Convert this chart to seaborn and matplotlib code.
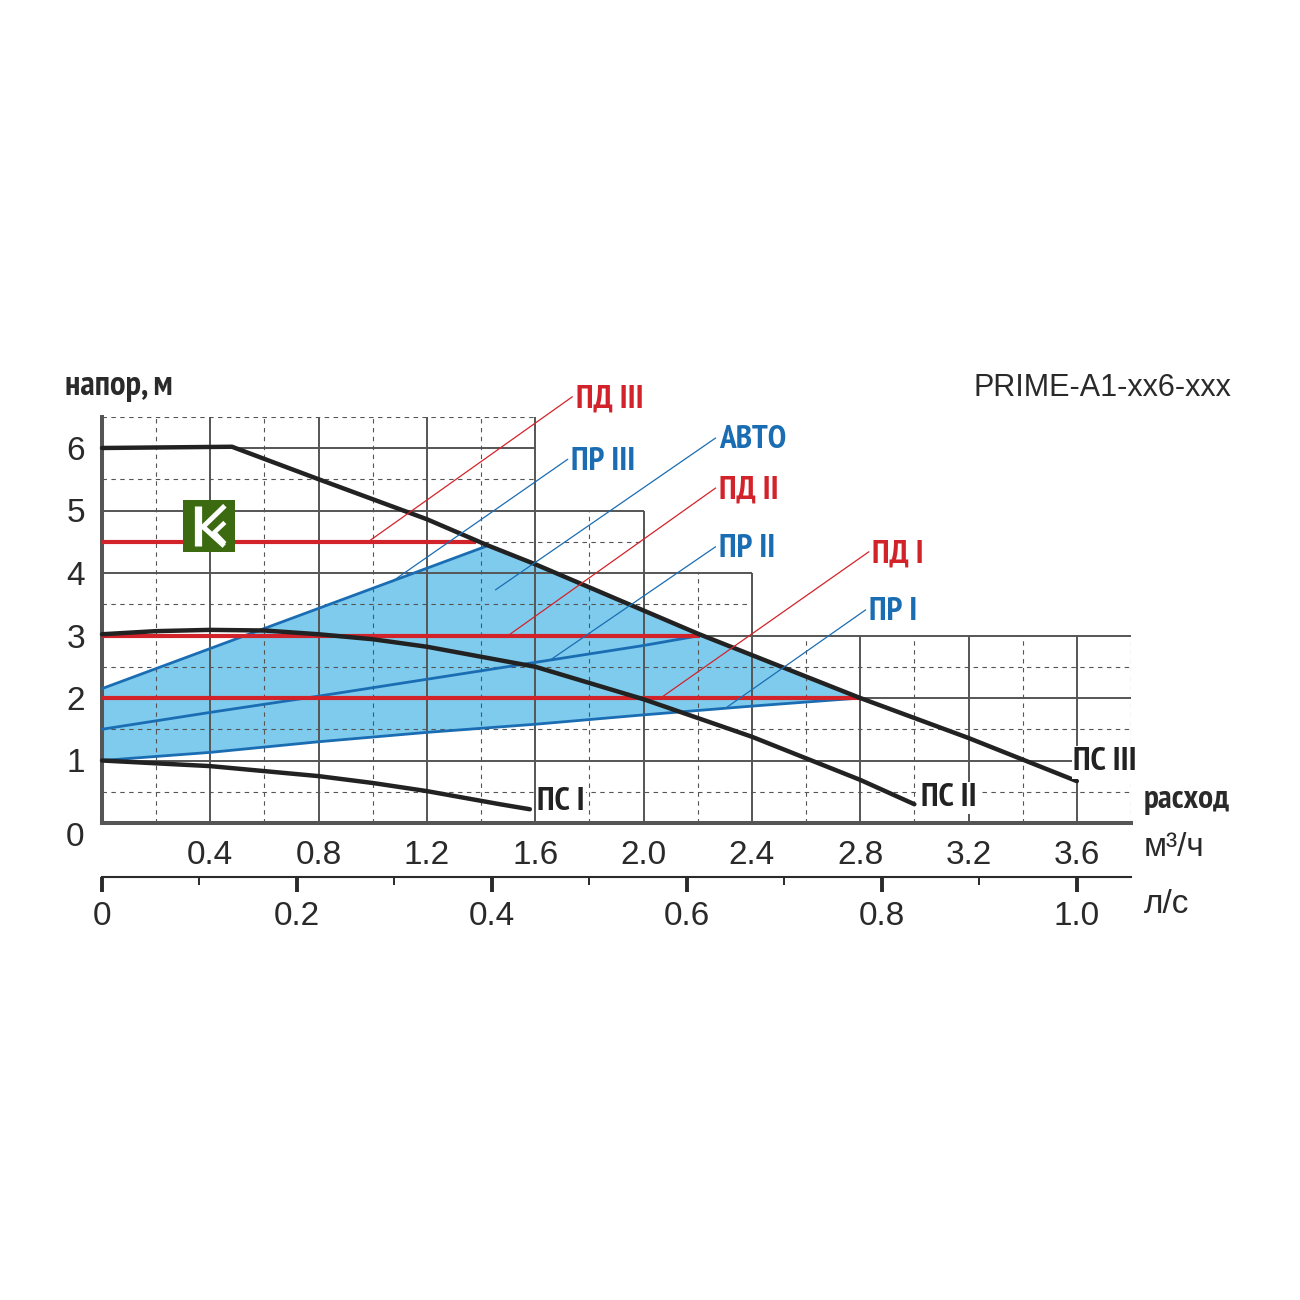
import matplotlib
matplotlib.use("Agg")
import matplotlib.pyplot as plt
import numpy as np
import seaborn as sns
from matplotlib import font_manager
from matplotlib.patches import Rectangle

# --- данные графика (расход, м3/ч -> напор, м) ---
flow_ticks = [0.4, 0.8, 1.2, 1.6, 2.0, 2.4, 2.8, 3.2, 3.6]
flow_labels = ["0.4", "0.8", "1.2", "1.6", "2.0", "2.4", "2.8", "3.2", "3.6"]
flow_minor = [0.2, 0.6, 1.0, 1.4, 1.8, 2.2, 2.6, 3.0, 3.4, 3.8]
head_ticks = [1, 2, 3, 4, 5, 6]
head_labels = ["1", "2", "3", "4", "5", "6"]
ls_ticks = [0, 0.2, 0.4, 0.6, 0.8, 1.0]
ls_labels = ["0", "0.2", "0.4", "0.6", "0.8", "1.0"]
ls_minor = [0.1, 0.3, 0.5, 0.7, 0.9]

# ступенчатая сетка: правая граница и верх каждой ступени
grid_step_q = [3.8, 2.4, 2.0, 1.6]
grid_step_h = [3.0, 4.0, 5.0, 6.5]

# постоянная скорость
ps3_q = [0, 0.48, 0.8, 1.2, 1.42, 1.6, 2.2, 2.8, 3.2, 3.6]
ps3_h = [6.0, 6.02, 5.5, 4.86, 4.45, 4.14, 3.03, 2.0, 1.36, 0.67]
ps2_q = [0, 0.2, 0.4, 0.6, 0.8, 1.0, 1.2, 1.6, 2.0, 2.4, 2.8, 3.0]
ps2_h = [3.02, 3.07, 3.09, 3.08, 3.02, 2.94, 2.82, 2.5, 1.98, 1.38, 0.69, 0.3]
ps1_q = [0, 0.4, 0.8, 1.0, 1.2, 1.47, 1.58]
ps1_h = [1.0, 0.91, 0.75, 0.64, 0.51, 0.30, 0.22]

# пропорциональное давление
pr1_q = [0, 0.4, 0.8, 1.2, 1.6, 2.0, 2.4, 2.8]
pr1_h = [1.0, 1.13, 1.3, 1.45, 1.58, 1.73, 1.87, 2.0]
pr2_q = [0, 0.4, 0.8, 1.2, 1.6, 2.0, 2.21]
pr2_h = [1.5, 1.77, 2.03, 2.3, 2.57, 2.84, 3.0]
pr3_q = [0, 1.42]
pr3_h = [2.15, 4.43]

# постоянное давление
pd_h = [2.0, 3.0, 4.5]
pd_end = [2.8, 2.21, 1.38]

ps_names = ["ПС I", "ПС II", "ПС III"]
ps_label_q = [1.608, 3.024, 3.586]
ps_label_h = [0.34, 0.40, 0.97]

callout_names = ["ПД III", "ПР III", "АВТО", "ПД II", "ПР II", "ПД I", "ПР I"]
callout_kind = ["pd", "pr", "pr", "pd", "pr", "pd", "pr"]
callout_from = [(0.983, 4.5), (1.07, 3.86), (1.453, 3.73), (1.5, 3.0),
                (1.656, 2.61), (2.063, 2.0), (2.31, 1.86)]
callout_to = [(1.737, 6.82), (1.72, 5.82), (2.266, 6.16), (2.266, 5.36),
              (2.266, 4.42), (2.832, 4.34), (2.82, 3.41)]

RED = "#d3232a"
BLUE = "#1a6db3"
FILL = "#7fcbed"
BLACK = "#222222"
GRID = "#555555"
TEXT = "#2a2a2a"
GREEN = "#3b6a11"


def pick_font(candidates, fallback="DejaVu Sans"):
    names = {f.name for f in font_manager.fontManager.ttflist}
    for name in candidates:
        if name in names:
            return name
    return fallback


sns.set_theme(style="white")
plt.rcParams["font.family"] = ["Liberation Sans", "DejaVu Sans"]
NARROW = [pick_font(["PT Sans Narrow", "Fira Sans Condensed", "Roboto Condensed",
                     "Archivo Narrow", "Barlow Condensed", "Liberation Sans Narrow"]),
          "DejaVu Sans"]

fig = plt.figure(figsize=(13, 13), dpi=100)
ax = fig.add_axes([102 / 1300, 477 / 1300, 1029 / 1300, 406.25 / 1300])
ax.set_xlim(0, 3.8)
ax.set_ylim(0, 6.5)


# сетка
def q_limit(h):
    for q_max, h_top in zip(grid_step_q, grid_step_h):
        if h <= h_top + 1e-9:
            return q_max
    return 0


def h_limit(q):
    for q_max, h_top in zip(grid_step_q[::-1], grid_step_h[::-1]):
        if q <= q_max + 1e-9:
            return h_top
    return 0


for h in np.arange(0.5, 6.51, 0.5):
    solid = abs(h - round(h)) < 1e-9
    ax.hlines(h, 0, q_limit(h), colors=GRID, zorder=2,
              lw=1.4 if solid else 0.8, linestyles="-" if solid else (0, (4, 4)))
for q in np.arange(0.2, 3.81, 0.2):
    solid = abs(q / 0.4 - round(q / 0.4)) < 1e-9
    ax.vlines(q, 0, h_limit(q), colors=GRID, zorder=2,
              lw=1.4 if solid else 0.8, linestyles="-" if solid else (0, (4, 4)))

# зона АВТО
upper_q = pr3_q + [q for q in ps3_q if pr3_q[-1] <= q <= pr1_q[-1]]
upper_h = pr3_h + [h for q, h in zip(ps3_q, ps3_h) if pr3_q[-1] <= q <= pr1_q[-1]]
ax.fill(upper_q + pr1_q[::-1], upper_h + pr1_h[::-1], color=FILL, lw=0, zorder=1)

for qs, hs in ((pr1_q, pr1_h), (pr2_q, pr2_h), (pr3_q, pr3_h)):
    sns.lineplot(x=qs, y=hs, ax=ax, color=BLUE, lw=2.0, sort=False, estimator=None, zorder=3)
for h, q_end in zip(pd_h, pd_end):
    ax.hlines(h, 0, q_end, colors=RED, lw=3.0, zorder=4)
for qs, hs in ((ps1_q, ps1_h), (ps2_q, ps2_h), (ps3_q, ps3_h)):
    sns.lineplot(x=qs, y=hs, ax=ax, color=BLACK, lw=3.2, sort=False,
                 estimator=None, zorder=5)
for line in ax.lines:
    line.set_clip_on(False)
    line.set_solid_joinstyle("round")

for name, q, h in zip(ps_names, ps_label_q, ps_label_h):
    ax.text(q, h, name, ha="left", va="center", fontsize=24, fontweight="bold",
            family=NARROW, color=BLACK, zorder=6,
            bbox=dict(facecolor="white", edgecolor="none", pad=1))

for name, kind, (q0, h0), (q1, h1) in zip(callout_names, callout_kind, callout_from, callout_to):
    color = RED if kind == "pd" else BLUE
    ax.plot([q0, q1], [h0, h1], color=color, lw=0.9, zorder=6, clip_on=False)
    ax.text(q1 + 0.012, h1 - 0.04, name, ha="left", va="center", fontsize=24,
            fontweight="bold", family=NARROW, color=color)

# логотип
lq0, lh0, lw_, lh_ = 0.299, 4.336, 0.192, 0.832
ax.add_patch(Rectangle((lq0, lh0), lw_, lh_, facecolor=GREEN, edgecolor="none", zorder=7))


def lp(u, v):
    return lq0 + u * lw_, lh0 + v * lh_


for pts, width in (([(0.284, 0.116), (0.284, 0.89)], 5.2),
                   ([(0.806, 0.89), (0.387, 0.484), (0.794, 0.116)], 3.6),
                   ([(0.806, 0.568), (0.6, 0.374), (0.806, 0.161)], 3.2)):
    xy = [lp(u, v) for u, v in pts]
    ax.plot([p[0] for p in xy], [p[1] for p in xy], color="white", lw=width,
            solid_capstyle="butt", zorder=8)

# оси
sns.despine(ax=ax)
for side in ("left", "bottom"):
    ax.spines[side].set_color(GRID)
    ax.spines[side].set_linewidth(2.9)
    ax.spines[side].set_capstyle("projecting")
ax.set_xticks(flow_ticks, flow_labels)
ax.set_xticks(flow_minor, minor=True)
ax.set_yticks(head_ticks, head_labels)
ax.tick_params(axis="x", which="major", length=7, width=1.4, color=GRID, pad=5,
               labelsize=24, labelcolor=TEXT, direction="out")
ax.tick_params(axis="x", which="minor", length=3, width=0.8, color=GRID, direction="out")
ax.tick_params(axis="y", which="major", length=6, width=1.4, color=GRID, pad=6,
               labelsize=24, labelcolor=TEXT, direction="out")
ax.text(-0.067, -0.24, "0", ha="right", va="center", fontsize=24, color=TEXT)

sec = ax.secondary_xaxis(-0.133, functions=(lambda q: q / 3.6, lambda v: v * 3.6))
sec.set_xticks(ls_ticks, ls_labels)
sec.set_xticks(ls_minor, minor=True)
sec.spines["bottom"].set_color(TEXT)
sec.spines["bottom"].set_linewidth(1.5)
sec.tick_params(which="major", length=11, width=2.8, color=TEXT, pad=6,
                labelsize=24, labelcolor=TEXT)
sec.tick_params(which="minor", length=6, width=1.4, color=TEXT)

ax.text(-0.137, 7.0, "напор, м", ha="left", va="center", fontsize=25,
        fontweight="bold", family=NARROW, color=TEXT)
ax.text(3.848, 0.37, "расход", ha="left", va="center", fontsize=24,
        fontweight="bold", family=NARROW, color=TEXT)
ax.text(3.848, -0.40, "м³/ч", ha="left", va="center", fontsize=24, color=TEXT)
ax.text(3.848, -1.31, "л/с", ha="left", va="center", fontsize=24, color=TEXT)
ax.text(4.17, 6.96, "PRIME-A1-xx6-xxx", ha="right", va="center", fontsize=22, color=TEXT)

fig.savefig("out.png", dpi=100)
